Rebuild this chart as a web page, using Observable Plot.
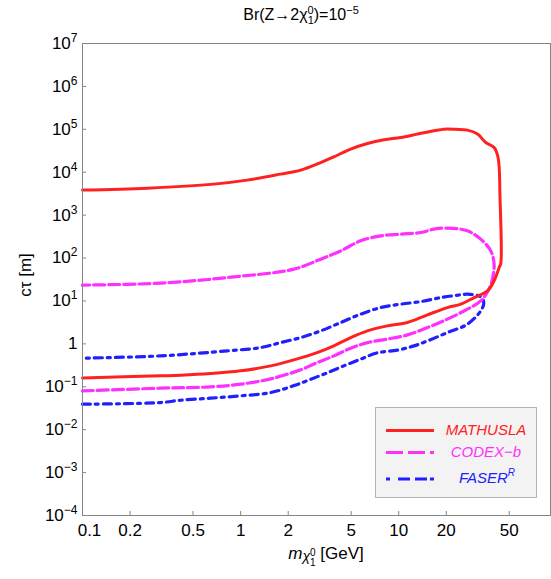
<!DOCTYPE html>
<html><head><meta charset="utf-8">
<script src="https://cdn.jsdelivr.net/npm/d3@7"></script>
<script src="https://cdn.jsdelivr.net/npm/@observablehq/plot@0.6"></script>
<style>body{margin:0;background:#fff} svg{display:block}</style>
</head><body><div id="chart"></div>
<script>
// ---- tick values and labels ----
const xTicks = [0.1, 0.2, 0.5, 1, 2, 5, 10, 20, 50];
const xTickLabels = ["0.1", "0.2", "0.5", "1", "2", "5", "10", "20", "50"];
const yTicks = [1e-4, 1e-3, 1e-2, 1e-1, 1, 1e1, 1e2, 1e3, 1e4, 1e5, 1e6, 1e7];
const yTickLabels = ["10^−4", "10^−3", "10^−2", "10^−1", "1", "10^1", "10^2", "10^3", "10^4", "10^5", "10^6", "10^7"];
const seriesNames = ["MATHUSLA", "CODEX−b", "FASER"];
const seriesColors = ["#ff2020", "#ff30ff", "#2020ff"];

// ---- MATHUSLA contour (m in GeV, c*tau in m) ----
const mathuslaMass = [0.1, 0.312, 0.417, 0.645, 1.0, 1.55, 2.40, 3.05, 3.89, 4.97, 6.34, 8.48, 11.35, 15.2, 20.3, 24.7, 30.0, 36.4, 40.1, 43.3, 44.2, 43.7, 42.5, 40.1, 35.5, 31.5, 27.2, 23.0, 19.3, 16.7, 13.1, 10.3, 8.07, 6.34, 4.97, 3.89, 3.21, 2.40, 1.79, 1.10, 0.675, 0.257, 0.1];
const mathuslaCtau = [0.161, 0.180, 0.186, 0.203, 0.235, 0.307, 0.472, 0.627, 0.90, 1.40, 2.01, 2.63, 3.14, 4.74, 7.01, 8.42, 12.0, 17.2, 29.4, 62, 75, 2570, 22000, 37700, 49200, 77300, 95800, 100000, 101000, 92200, 77300, 64400, 56900, 46600, 34500, 22900, 16800, 11200, 9030, 6550, 5280, 4260, 3830];

// ---- CODEX-b contour ----
const codexMass = [0.1, 0.312, 0.645, 1.0, 1.55, 2.40, 3.05, 3.89, 4.97, 6.34, 8.48, 11.35, 15.2, 20.3, 27.2, 33.0, 37.3, 39.3, 40.1, 38.2, 33.0, 27.2, 20.3, 16.7, 13.8, 10.3, 7.69, 5.74, 4.30, 3.21, 2.17, 0.824, 0.312, 0.1];
const codexCtau = [0.0802, 0.0927, 0.0995, 0.115, 0.153, 0.248, 0.366, 0.525, 0.794, 1.07, 1.29, 1.62, 2.40, 3.77, 6.44, 10.0, 19.1, 35, 72, 147, 276, 431, 498, 472, 393, 361, 329, 252, 147, 94.2, 55.1, 35.1, 26.0, 23.4];

// ---- FASER^R contour ----
const faserMass = [0.1, 0.312, 0.417, 0.645, 1.0, 1.55, 2.2, 2.78, 3.53, 4.49, 5.74, 7.32, 9.81, 12.5, 15.2, 20.3, 27.2, 33.0, 34.5, 33.0, 27.2, 24.7, 18.5, 13.8, 10.3, 7.69, 5.74, 4.30, 3.21, 2.40, 1.79, 1.34, 0.824, 0.312, 0.1];
const faserCtau = [0.0393, 0.0429, 0.0486, 0.0542, 0.0614, 0.0733, 0.108, 0.150, 0.211, 0.307, 0.440, 0.617, 0.713, 0.898, 1.17, 1.83, 2.88, 5.87, 9.0, 12.5, 14.4, 13.9, 12.0, 9.68, 8.42, 7.01, 4.92, 3.14, 2.01, 1.40, 1.07, 0.820, 0.687, 0.525, 0.464];

const toRows = (ms, cs, s) => ms.map((m, i) => ({series: s, m, ct: cs[i]}));
const mathusla = toRows(mathuslaMass, mathuslaCtau, seriesNames[0]);
const codex = toRows(codexMass, codexCtau, seriesNames[1]);
const faser = toRows(faserMass, faserCtau, seriesNames[2]);

const W = 551, H = 579, ML = 82, MR = 1, MT = 43, MB = 64;
const frameGray = "#858585";

const chart = Plot.plot({
  width: W, height: H,
  marginLeft: ML, marginRight: MR, marginTop: MT, marginBottom: MB,
  style: {fontFamily: "'Liberation Sans', Arial, Helvetica, sans-serif", fontSize: "17px", color: "black", background: "white"},
  x: {type: "log", domain: [0.1, 91.19]},
  y: {type: "log", domain: [1e-4, 1e7]},
  marks: [
    Plot.ruleY(yTicks, {stroke: frameGray, insetRight: W - ML - MR - 4}),
    Plot.ruleX(xTicks, {stroke: frameGray, insetTop: H - MT - MB - 4}),
    Plot.axisY(yTicks, {tickSize: 0, tickPadding: 5, label: null, text: yTickLabels}),
    Plot.axisX(xTicks, {tickSize: 0, tickPadding: 8, label: null, text: xTickLabels}),
    Plot.line(faser, {x: "m", y: "ct", stroke: seriesColors[2], strokeWidth: 3.2, strokeDasharray: "8,5,3,5", curve: "catmull-rom"}),
    Plot.line(codex, {x: "m", y: "ct", stroke: seriesColors[1], strokeWidth: 3.2, strokeDasharray: "11,4", curve: "catmull-rom"}),
    Plot.line(mathusla, {x: "m", y: "ct", stroke: seriesColors[0], strokeWidth: 3, curve: "catmull-rom"}),
    Plot.frame({stroke: frameGray})
  ]
});
document.getElementById("chart").appendChild(chart);

const svg = d3.select(chart);
// superscripts on y tick labels
svg.selectAll('g[aria-label="y-axis tick label"] text').each(function () {
  const t = d3.select(this);
  const s = t.text();
  if (s.includes("^")) {
    const [b, e] = s.split("^");
    t.text(b);
    t.append("tspan").attr("dy", -7).attr("font-size", 12).text(e);
  }
});
// first x label nudged right as in reference
svg.select('g[aria-label="x-axis tick label"] text').attr("dx", 7);

function rich(x, y, parts, opts = {}) {
  const t = svg.append("text").attr("x", x).attr("y", y)
    .attr("text-anchor", opts.anchor || "middle")
    .attr("font-size", opts.size || 17)
    .attr("fill", opts.fill || "black");
  if (opts.transform) t.attr("transform", opts.transform);
  if (opts.italic) t.attr("font-style", "italic");
  for (const p of parts) {
    const ts = t.append("tspan").text(p.t);
    if (p.dy) ts.attr("dy", p.dy);
    if (p.dx) ts.attr("dx", p.dx);
    if (p.size) ts.attr("font-size", p.size);
    if (p.italic) ts.attr("font-style", "italic");
  }
  return t;
}

// title
rich(301, 20, [
  {t: "Br(Z→2χ"},
  {t: "0", size: 11, dy: -6},
  {t: "1", size: 11, dx: -6.1, dy: 10},
  {t: ")=10", dy: -4},
  {t: "−5", size: 11, dy: -6}
], {size: 16});

// x label
rich(326, 559, [
  {t: "m", italic: true},
  {t: "χ", size: 14, italic: true, dy: 2},
  {t: "0", size: 10, dy: -5},
  {t: "1", size: 10, dx: -5.6, dy: 10},
  {t: " [GeV]", dy: -7}
], {size: 17});

// y label
rich(0, 0, [{t: "cτ [m]"}], {size: 17, transform: "translate(31,275) rotate(-90)"});

// legend
const lg = svg.append("g");
lg.append("rect").attr("x", 375.5).attr("y", 407.5).attr("width", 161).attr("height", 90)
  .attr("fill", "#f3f3f3").attr("stroke", "#b4b4b4");
const legY = [430.5, 452.5, 479];
const legDash = [null, "17,5", "4,8,12,5,12,3,4"];
legY.forEach((y, i) => {
  const l = lg.append("line").attr("x1", 386).attr("x2", 434).attr("y1", y).attr("y2", y)
    .attr("stroke", seriesColors[i]).attr("stroke-width", 3);
  if (legDash[i]) l.attr("stroke-dasharray", legDash[i]);
});
rich(486, 435, [{t: seriesNames[0]}], {size: 15, italic: true, fill: seriesColors[0]});
rich(486, 457, [{t: seriesNames[1]}], {size: 15, italic: true, fill: seriesColors[1]});
rich(487, 483, [{t: seriesNames[2]}, {t: "R", size: 10, dy: -7}], {size: 15, italic: true, fill: seriesColors[2]});
</script>
</body></html>
